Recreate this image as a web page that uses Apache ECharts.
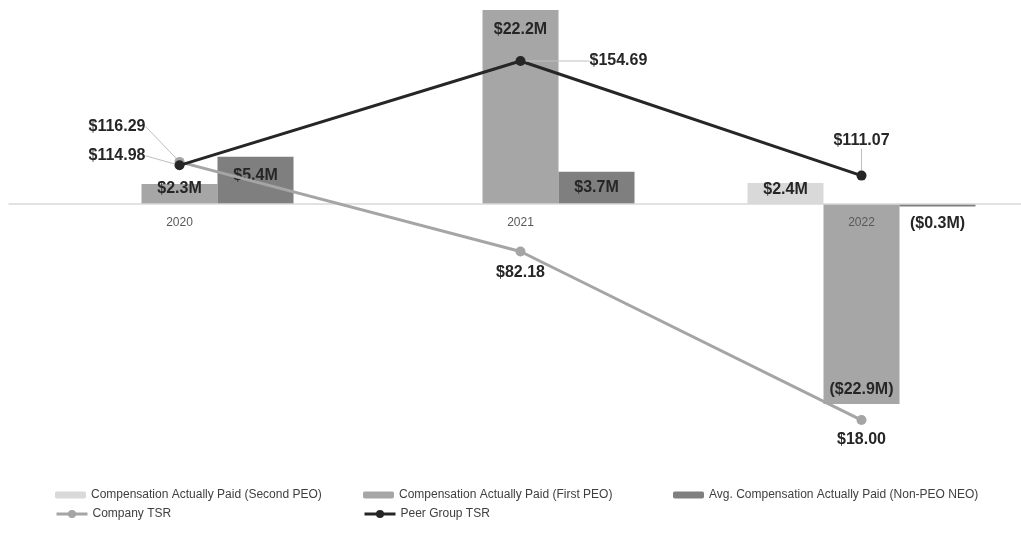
<!DOCTYPE html>
<html><head><meta charset="utf-8">
<script src="https://cdn.jsdelivr.net/npm/echarts@6/dist/echarts.min.js"></script>
<style>html,body{margin:0;padding:0;background:#fff}#c{width:1021px;height:534px}</style>
</head><body><div id="c"></div>
<script>
// ---- data ----
const categories = ['2020', '2021', '2022'];
const secondPEO = [null, null, 2.4];
const firstPEO = [2.3, 22.2, -22.9];
const nonPEO = [5.4, 3.7, -0.3];
const companyTSR = [116.29, 82.18, 18.00];
const peerTSR = [114.98, 154.69, 111.07];
const seriesNames = [
  'Compensation Actually Paid (Second PEO)',
  'Compensation Actually Paid (First PEO)',
  'Avg. Compensation Actually Paid (Non-PEO NEO)',
  'Company TSR',
  'Peer Group TSR'
];

// ---- styling ----
const FONT = '"Liberation Sans", Arial, sans-serif';
const money = v => v < 0 ? '($' + Math.abs(v).toFixed(1) + 'M)' : '$' + v.toFixed(1) + 'M';
const tsr = v => '$' + v.toFixed(2);
const lblBase = { show: true, fontFamily: FONT, fontWeight: 'bold', fontSize: 16, color: '#262626' };

const barLabelCfg = {
  second: [{}, {}, { position: 'inside', offset: [0, -4] }],
  first: [{ position: 'inside', offset: [0, -5] }, { position: 'insideTop', distance: 12 }, { position: 'insideBottom', distance: 6.5 }],
  non: [{ position: 'inside', offset: [0, -5] }, { position: 'inside' }, { position: 'bottom', distance: 9 }]
};
// label placement (position) and shift relative to the point (labelLayout dx/dy) for leader lines
const lineLabelCfg = {
  company: [{ position: 'left', dx: -24, dy: -35.5, guide: true }, { position: 'bottom', distance: 8 }, { position: 'bottom', distance: 7 }],
  peer: [{ position: 'left', dx: -24, dy: -9.5, guide: true }, { position: 'right', dx: 59, dy: 0, guide: true }, { position: 'top', dx: 0, dy: -17, guide: true }]
};

function barData(vals, cfg) {
  return vals.map((v, i) => v == null ? null : ({
    value: v,
    label: Object.assign({}, lblBase, cfg[i], { formatter: money(v) })
  }));
}
function lineData(vals, cfg) {
  return vals.map((v, i) => {
    const c = cfg[i];
    const lbl = Object.assign({}, lblBase, { position: c.position, formatter: tsr(v) });
    if (c.distance != null) lbl.distance = c.distance;
    return {
      value: v, label: lbl,
      labelLine: c.guide ? { show: true, length2: 0, lineStyle: { color: '#bfbfbf', width: 1 } } : { show: false }
    };
  });
}
function layoutFor(cfg) {
  return p => {
    const c = cfg[p.dataIndex];
    return (c && c.guide) ? { dx: c.dx, dy: c.dy } : {};
  };
}

const legendCommon = {
  itemWidth: 31, itemHeight: 7, padding: 0, selectedMode: false,
  textStyle: { fontFamily: FONT, fontSize: 12, color: '#404040' }
};
const legendLine = Object.assign({}, legendCommon, { itemHeight: 10, lineStyle: { width: 3 } });

const chart = echarts.init(document.getElementById('c'));
chart.setOption({
  backgroundColor: '#ffffff',
  animation: false,
  grid: { left: 9, top: 10, width: 1023, height: 440, outerBoundsMode: 'none', containLabel: false },
  legend: [
    Object.assign({ data: [seriesNames[0]], left: 55, top: 489 }, legendCommon),
    Object.assign({ data: [seriesNames[1]], left: 363, top: 489 }, legendCommon),
    Object.assign({ data: [seriesNames[2]], left: 673, top: 489 }, legendCommon),
    Object.assign({ data: [seriesNames[3]], left: 55, top: 508 }, legendLine),
    Object.assign({ data: [seriesNames[4]], left: 363, top: 508 }, legendLine)
  ],
  xAxis: {
    type: 'category', data: categories, z: 3, position: 'bottom', offset: -246,
    axisLine: { onZero: false, lineStyle: { color: '#d9d9d9', width: 1.5 } },
    axisTick: { show: false },
    axisLabel: { fontFamily: FONT, fontSize: 12, color: '#595959', margin: 13 }
  },
  yAxis: [
    { type: 'value', min: -28.15, max: 22.2, show: false, splitLine: { show: false } },
    { type: 'value', min: 6.59, max: 174.12, show: false, splitLine: { show: false } }
  ],
  series: [
    { name: seriesNames[0], type: 'bar', data: barData(secondPEO, barLabelCfg.second), barWidth: 76, barGap: '0%', itemStyle: { color: '#d9d9d9' } },
    { name: seriesNames[1], type: 'bar', data: barData(firstPEO, barLabelCfg.first), barWidth: 76, barGap: '0%', itemStyle: { color: '#a6a6a6' } },
    { name: seriesNames[2], type: 'bar', data: barData(nonPEO, barLabelCfg.non), barWidth: 76, barGap: '0%', itemStyle: { color: '#7f7f7f' } },
    { name: seriesNames[3], type: 'line', yAxisIndex: 1, z: 4, data: lineData(companyTSR, lineLabelCfg.company),
      labelLayout: layoutFor(lineLabelCfg.company),
      symbol: 'circle', symbolSize: 10, lineStyle: { color: '#a5a5a5', width: 3 }, itemStyle: { color: '#a5a5a5' } },
    { name: seriesNames[4], type: 'line', yAxisIndex: 1, z: 5, data: lineData(peerTSR, lineLabelCfg.peer),
      labelLayout: layoutFor(lineLabelCfg.peer),
      symbol: 'circle', symbolSize: 10, lineStyle: { color: '#262626', width: 3 }, itemStyle: { color: '#262626' } }
  ]
});
</script>
</body></html>
